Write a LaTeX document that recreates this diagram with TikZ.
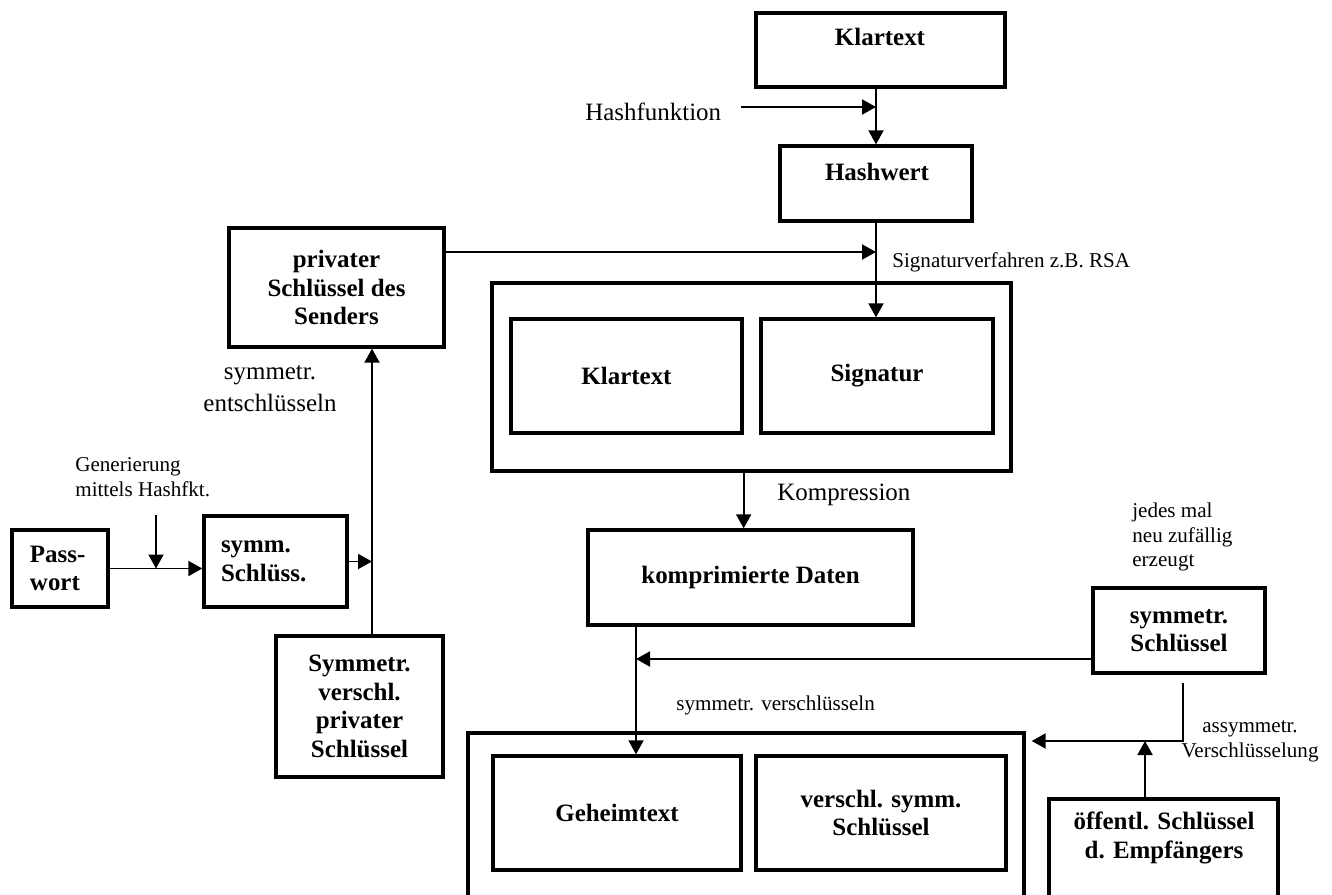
\documentclass[tikz,border=0pt]{standalone}
\usepackage{fontspec}
\setmainfont{Liberation Serif}
\usetikzlibrary{arrows.meta,positioning,calc}
\def\SchriftGross{\fontsize{14.2}{16.2}\selectfont}
\def\SchriftKlein{\fontsize{12}{14.2}\selectfont}

\begin{document}
\begin{tikzpicture}[x=0.02cm,y=-0.02cm]
\tikzstyle{pfeil}=[->,>={Triangle[length=2.8mm,width=3mm]},line width=1.1pt]
\tikzstyle{kasten}=[draw,line width=1.9pt,rectangle,inner sep=0pt,align=center,font=\SchriftGross\bfseries]
\tikzstyle{kastentext}=[inner sep=0pt,align=center,font=\SchriftGross\bfseries]
\tikzstyle{beschriftung}=[inner sep=0pt,align=left,font=\SchriftKlein]
\def\px{0.02cm}
\useasboundingbox (0,0) rectangle (1332,895);
\clip (0,0) rectangle (1332,895);
% Kaesten
\node[kasten,minimum width=249*\px,minimum height=74*\px] (klar) at (880.5,50) {};
\node[kastentext] (klarT) at (880,37) {Klartext};
\node[kasten,minimum width=192*\px,minimum height=75*\px] (hash) at (876,183.5) {};
\node[kastentext] (hashT) at (877,172) {Hashwert};
\node[kasten,minimum width=215*\px,minimum height=119*\px] (priv) at (336.5,287.5) {privater\\Schlüssel des\\Senders};
\node[kasten,minimum width=519*\px,minimum height=188*\px] (signiert) at (751.5,377) {};
\node[kasten,minimum width=231*\px,minimum height=114*\px] (klar2) at (626.5,376) {Klartext};
\node[kasten,minimum width=232*\px,minimum height=114*\px] (sig) at (877,376) {Signatur};
\node[kasten,text width=60*\px,inner xsep=18*\px,minimum height=77*\px,align=left] (pass) at (60,568.5) {Pass-\\wort};
\node[kasten,text width=109*\px,inner xsep=17*\px,minimum height=91*\px,align=left] (symm) at (275.5,561.5) {symm.\\Schlüss.};
\node[kasten,minimum width=167*\px,minimum height=141*\px] (symverschl) at (359.5,706.5) {Symmetr.\\verschl.\\privater\\Schlüssel};
\node[kasten,minimum width=325*\px,minimum height=95*\px] (kompr) at (750.5,577.5) {komprimierte Daten};
\node[kasten,minimum width=172*\px,minimum height=85*\px] (symkey) at (1179,630.5) {symmetr.\\Schlüssel};
\node[kasten,minimum width=556*\px,minimum height=197*\px] (chiffrat) at (746,831.5) {};
\node[kasten,minimum width=248*\px,minimum height=114*\px] (geheim) at (617,813) {Geheimtext};
\node[kasten,minimum width=250*\px,minimum height=114*\px] (verschlsym) at (881,813) {verschl. symm.\\Schlüssel};
\node[kasten,minimum width=229*\px,minimum height=131*\px] (oeff) at (1163.5,864.5) {};
\node[kastentext] (oeffT) at (1164,838) {öffentl. Schlüssel\\d. Empfängers};
% Beschriftungen
\node[beschriftung,font=\SchriftGross,anchor=west] (hf) at (585,112) {Hashfunktion};
\node[beschriftung,anchor=west] (sv) at (892,262) {Signaturverfahren z.B. RSA};
\node[beschriftung,font=\SchriftGross,anchor=west] (kp) at (777,495) {Kompression};
\node[beschriftung,anchor=west] (gen) at (75,477.5) {Generierung\\mittels Hashfkt.};
\node[beschriftung,font=\SchriftGross,align=center] (ent) at (270,389) {symmetr.\\[2pt]entschlüsseln};
\node[beschriftung,anchor=west] (jedes) at (1132,537) {jedes mal\\neu zufällig\\erzeugt};
\node[beschriftung,align=center] (asym) at (1250,741) {assymmetr.\\Verschlüsselung};
\node[beschriftung,anchor=west] (sv2) at (676,705) {symmetr. verschlüsseln};
% Hilfspunkte
\coordinate (hfA) at (741,107);
\coordinate (pA) at (444,252);
\coordinate (gA) at (156,515);
\coordinate (vA) at (372,0);
\coordinate (dA) at (636,0);
\coordinate (kA) at (1093,659);
\coordinate (sA) at (1183,683);
\coordinate (sB) at (1183,741);
\coordinate (oA) at (1145,0);
% Pfeile
\draw[pfeil] (hash.north |- klar.south) -- (hash.north);
\draw[pfeil] (hfA) -- (hfA -| hash.north);
\draw[pfeil] (hash.south) -- (hash.south |- sig.north);
\draw[pfeil] (pA) -- (pA -| hash.south);
\draw[pfeil] (klar2.east |- signiert.south) -- (klar2.east |- kompr.north);
\draw[pfeil] (pass.east) -- (pass.east -| symm.west);
\draw[pfeil] (gA) -- (gA |- pass.east);
\draw[pfeil] (vA |- symverschl.north) -- (vA |- priv.south);
\draw[pfeil] (symm.east) -- (symm.east -| vA);
\draw[pfeil] (dA |- kompr.south) -- (dA |- geheim.north);
\draw[pfeil] (kA) -- (kA -| dA);
\draw[pfeil,shorten >=0.12cm] (sA) -- (sB) -- (sB -| chiffrat.east);
\draw[pfeil] (oA |- oeff.north) -- (oA |- sB);
\end{tikzpicture}
\end{document}
